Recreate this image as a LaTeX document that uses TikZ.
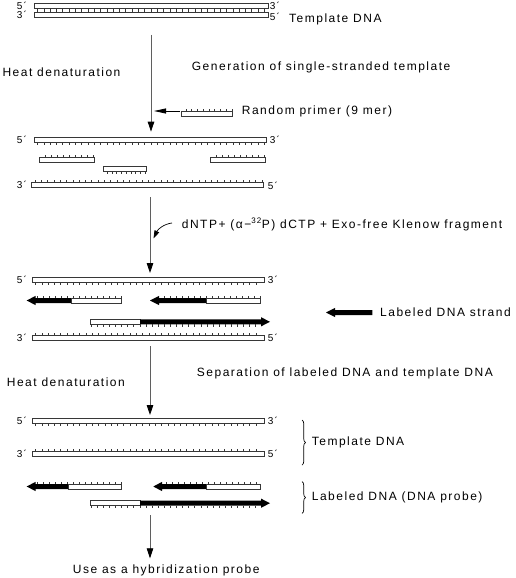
\documentclass[tikz,border=0pt]{standalone}
\usepackage{fontspec}
\setmainfont{Liberation Sans}[LetterSpace=12.5]
\usetikzlibrary{arrows.meta,decorations.pathreplacing}
\definecolor{strandgray}{RGB}{55,55,55}
\definecolor{flowgray}{RGB}{95,95,95}
\tikzstyle{strand}=[draw=strandgray, line width=.7pt, fill=white]
\tikzstyle{tick}=[draw=strandgray, line width=.6pt]
\tikzstyle{flow}=[draw=flowgray, line width=.8pt, -{Triangle[length=10pt,width=6.5pt,color=black]}]
\tikzstyle{txt}=[font=\fontsize{12}{14}\selectfont, inner sep=0pt, anchor=west]
\tikzstyle{endlbl}=[font=\fontsize{10}{12}\selectfont, inner sep=0pt]
\tikzstyle{brace}=[draw=black, line width=.7pt, decorate, decoration={brace,amplitude=3.5pt}]
%% strand body: {x left}{x right}{y top}
\newcommand{\Strand}[3]{\draw[strand] (#1,#3) rectangle (#2,#3+5);}
%% ticks: {y}{first}{second}{last}
\newcommand{\TicksUp}[4]{\foreach \tx in {#2,#3,...,#4} \draw[tick] (\tx,#1) -- ++(0,-2.4);}
\newcommand{\TicksDown}[4]{\foreach \tx in {#2,#3,...,#4} \draw[tick] (\tx,#1) -- ++(0,2.4);}
%% black (labeled) part: {tip}{head base}{end}{y top}
\newcommand{\LabelPart}[4]{\fill[black] (#1,#4+2.5) -- (#2,#4-2.1) -- (#2,#4) -- (#3,#4)
  -- (#3,#4+5) -- (#2,#4+5) -- (#2,#4+7.1) -- cycle;}

\begin{document}
\begin{tikzpicture}[x=1pt,y=-1pt]
  \useasboundingbox (0,0) rectangle (515,578);

  %% double-stranded template
  \Strand{34}{268}{3.3} \TicksDown{8.3}{37.5}{43.8}{265}
  \Strand{34}{268}{12.4} \TicksUp{12.4}{37.5}{43.8}{265}
  \node[endlbl] (e11) at (22,5.5) {5´};
  \node[endlbl] (e12) at (275,5.5) {3´};
  \node[endlbl] (e13) at (22,15) {3´};
  \node[endlbl] (e14) at (275,16.5) {5´};
  \node[txt] (tmpl) at (289,19) {Template DNA};

  \coordinate (F1s) at (151,35);
  \coordinate (F1e) at (151,131.7);
  \draw[flow] (F1s) -- (F1e);
  \node[txt] (heat1) at (2.3,72) {Heat denaturation};
  \node[txt] (gen) at (191.7,67.5) {Generation of single-stranded template};

  %% random primer
  \Strand{181.7}{232.3}{111.7} \TicksUp{111.7}{186}{191.75}{232}
  \coordinate (R1) at (180,111);
  \coordinate (R2) at (154,111);
  \draw[line width=.8pt,-{Triangle[length=12pt,width=5pt]}] (R1) -- (R2);
  \node[txt] (prim) at (241.7,111.5) {Random primer (9 mer)};

  %% primers annealed
  \Strand{34.3}{266.7}{137.3} \TicksDown{142.3}{37.5}{43.8}{265}
  \node[endlbl] (e21) at (22,139.5) {5´};
  \node[endlbl] (e22) at (275,139.5) {3´};
  \Strand{39.3}{94}{157.7} \TicksUp{157.7}{45.7}{51.7}{93.7}
  \Strand{210}{265}{157.7} \TicksUp{157.7}{216}{222}{264}
  \Strand{103.3}{146.7}{166.8} \TicksDown{171.8}{107.3}{112}{145.3}
  \Strand{31.7}{263.3}{182.7} \TicksUp{182.7}{35}{41.3}{262}
  \node[endlbl] (e23) at (22,185) {3´};
  \node[endlbl] (e24) at (273,186) {5´};

  \coordinate (F2s) at (150,197);
  \coordinate (F2e) at (150,273);
  \draw[flow] (F2s) -- (F2e);
  \coordinate (K1) at (172,223);
  \coordinate (K2) at (153.5,238.5);
  \draw[line width=.7pt,-{Triangle[length=8pt,width=5pt]}] (K1) .. controls (164,224) and (158,229) .. (K2);
  \node[txt] (mix) at (181.7,224.5) {dNTP+ (α−\textsuperscript{32}P) dCTP + Exo-free Klenow fragment};

  %% extension with label
  \Strand{32.5}{264.3}{277.5} \TicksDown{282.5}{35.5}{41.8}{262}
  \node[endlbl] (e31) at (22,279.5) {5´};
  \node[endlbl] (e32) at (273,279.5) {3´};
  \LabelPart{26.7}{35.5}{71}{298} \Strand{71}{121}{298} \TicksUp{298}{37}{43}{121}
  \LabelPart{150}{159}{206.7}{298} \Strand{206.7}{260}{298} \TicksUp{298}{164}{170}{260}
  \Strand{90}{140}{319.3} \LabelPart{270}{261}{140}{319.3} \TicksDown{324.3}{91}{97.1}{258}
  \Strand{32.3}{264.3}{335.5} \TicksUp{335.5}{35.5}{41.8}{262}
  \node[endlbl] (e33) at (22,338) {3´};
  \node[endlbl] (e34) at (273,338) {5´};

  \LabelPart{326}{335}{372.3}{310}
  \node[txt] (lab) at (380,312.5) {Labeled DNA strand};

  \coordinate (F3s) at (150,346);
  \coordinate (F3e) at (150,415);
  \draw[flow] (F3s) -- (F3e);
  \node[txt] (heat2) at (6.7,382) {Heat denaturation};
  \node[txt] (sep) at (196.7,373.5) {Separation of labeled DNA and template DNA};

  %% separated products
  \Strand{32.3}{264.3}{418.3} \TicksDown{423.3}{35.5}{41.8}{262}
  \node[endlbl] (e41) at (22,420.5) {5´};
  \node[endlbl] (e42) at (273,420.5) {3´};
  \Strand{32.3}{264.3}{451} \TicksUp{451}{35.5}{41.8}{262}
  \node[endlbl] (e43) at (22,453.5) {3´};
  \node[endlbl] (e44) at (273,453.5) {5´};
  \coordinate (B1s) at (302,420);
  \coordinate (B1e) at (302,465);
  \draw[brace] (B1s) -- (B1e);
  \node[txt] (tmpl2) at (311.7,442) {Template DNA};

  \LabelPart{26.7}{35.5}{68.3}{484} \Strand{68.3}{121}{484} \TicksUp{484}{37}{43}{121}
  \LabelPart{153.3}{162}{206.7}{484} \Strand{206.7}{260}{484} \TicksUp{484}{166}{172}{260}
  \Strand{90}{140}{500.7} \LabelPart{270}{261}{140}{500.7} \TicksDown{505.7}{91}{97.1}{258}
  \coordinate (B2s) at (302,481.7);
  \coordinate (B2e) at (302,513.3);
  \draw[brace] (B2s) -- (B2e);
  \node[txt] (probe) at (311.7,497.7) {Labeled DNA (DNA probe)};

  \coordinate (F4s) at (150,515);
  \coordinate (F4e) at (150,558.3);
  \draw[flow] (F4s) -- (F4e);
  \node[txt] (use) at (72.7,570.5) {Use as a hybridization probe};
\end{tikzpicture}
\end{document}
